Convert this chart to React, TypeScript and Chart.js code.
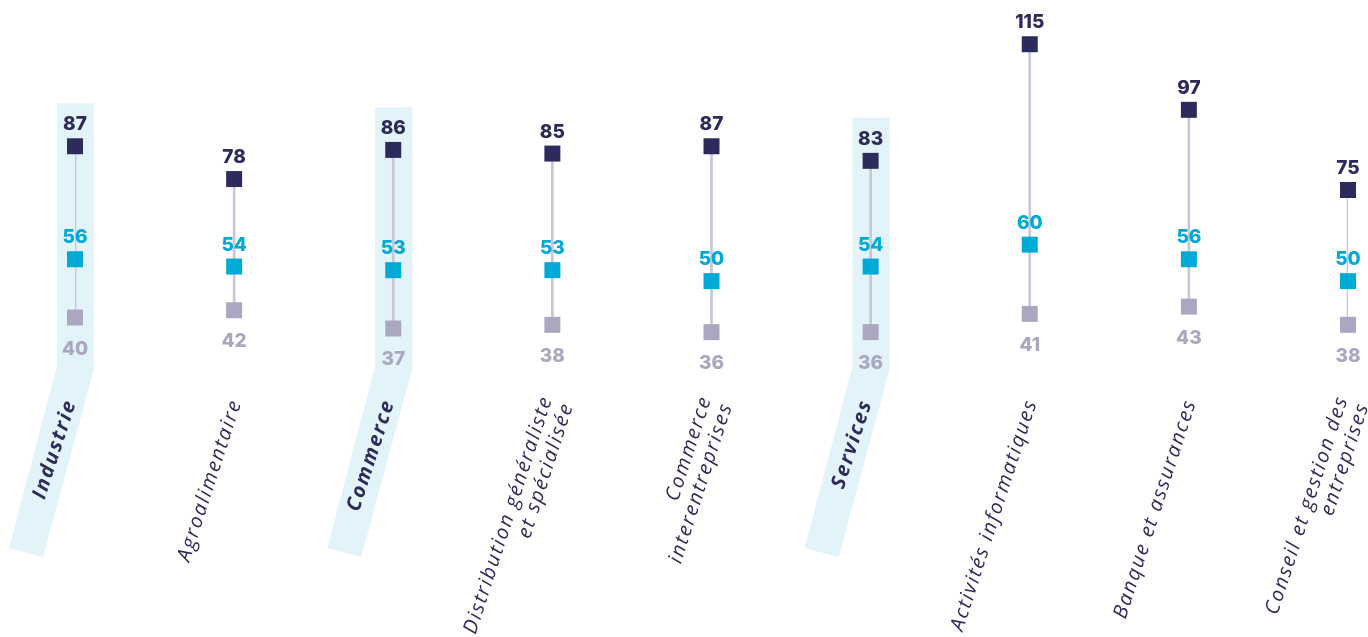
import React, { useEffect, useRef } from "react";
import { Chart, registerables } from "chart.js";

Chart.register(...registerables);

const categories: string[][] = [
  ["Industrie"],
  ["Agroalimentaire"],
  ["Commerce"],
  ["Distribution généraliste", "et spécialisée"],
  ["Commerce", "interentreprises"],
  ["Services"],
  ["Activités informatiques"],
  ["Banque et assurances"],
  ["Conseil et gestion des", "entreprises"],
];
const groupFlags = [true, false, true, false, false, true, false, false, false];
const highValues = [87, 78, 86, 85, 87, 83, 115, 97, 75];
const midValues = [56, 54, 53, 53, 50, 54, 60, 56, 50];
const lowValues = [40, 42, 37, 38, 36, 36, 41, 43, 38];

const NAVY = "#2d2a5c";
const CYAN = "#00aad6";
const GRAY = "#aba7c0";
const LINE = "#c8c6d7";
const BAND = "#e2f3fa";

const VALUE_FONT = "800 19px Inter, 'Noto Sans', sans-serif";
const CAT_FONT = "italic 400 20px 'Open Sans', 'Noto Sans', sans-serif";
const CAT_BOLD_FONT = "italic 700 20px 'Open Sans', 'Noto Sans', sans-serif";

const overlay = {
  id: "overlay",
  beforeDatasetsDraw(chart: any) {
    const ctx = chart.ctx as CanvasRenderingContext2D;
    const xs = chart.scales.x;
    const ys = chart.scales.y;
    ctx.save();
    ctx.fillStyle = BAND;
    groupFlags.forEach((g, i) => {
      if (!g) return;
      const cx = xs.getPixelForValue(i);
      const top = ys.getPixelForValue(highValues[i]) - 43;
      ctx.beginPath();
      ctx.moveTo(cx - 18, top);
      ctx.lineTo(cx + 19, top);
      ctx.lineTo(cx + 19, 369);
      ctx.lineTo(cx - 32, 557);
      ctx.lineTo(cx - 66, 548);
      ctx.lineTo(cx - 18, 366);
      ctx.closePath();
      ctx.fill();
    });
    ctx.restore();
  },
  afterDatasetsDraw(chart: any) {
    const ctx = chart.ctx as CanvasRenderingContext2D;
    const xs = chart.scales.x;
    ctx.save();
    const specs = [
      { ds: 1, values: highValues, color: NAVY, dy: -16 },
      { ds: 2, values: midValues, color: CYAN, dy: -16 },
      { ds: 3, values: lowValues, color: GRAY, dy: 37 },
    ];
    ctx.font = VALUE_FONT;
    ctx.textAlign = "center";
    ctx.textBaseline = "alphabetic";
    specs.forEach((s) => {
      const meta = chart.getDatasetMeta(s.ds);
      meta.data.forEach((pt: any, i: number) => {
        ctx.fillStyle = s.color;
        ctx.fillText(String(s.values[i]), pt.x, pt.y + s.dy);
      });
    });
    const angle = (-72 * Math.PI) / 180;
    const lineH = 22;
    categories.forEach((lines, i) => {
      const cx = xs.getPixelForValue(i);
      const bold = groupFlags[i];
      const n = lines.length;
      const ax = cx + (bold ? -4 : n > 1 ? 5 : 2);
      const ay = 400;
      ctx.save();
      ctx.translate(ax, ay);
      ctx.rotate(angle);
      ctx.font = bold ? CAT_BOLD_FONT : CAT_FONT;
      (ctx as any).letterSpacing = bold ? "2px" : "1.8px";
      ctx.fillStyle = NAVY;
      ctx.textAlign = "right";
      ctx.textBaseline = "middle";
      lines.forEach((t, k) => {
        const off = (k - (n - 1) / 2) * lineH;
        ctx.fillText(t, 0, off);
      });
      ctx.restore();
    });
    ctx.restore();
  },
};

export default function App() {
  const ref = useRef<HTMLCanvasElement | null>(null);
  useEffect(() => {
    if (!ref.current) return;
    const pointDs = (data: number[], color: string, order: number) =>
      ({
        type: "line",
        data,
        showLine: false,
        pointStyle: "rect",
        pointRadius: 11.3,
        pointBorderWidth: 0,
        pointBackgroundColor: color,
        pointBorderColor: color,
        clip: false,
        order,
      } as any);
    const chart = new Chart(ref.current, {
      type: "bar",
      data: {
        labels: categories.map((c) => c.join(" ")),
        datasets: [
          {
            type: "bar",
            data: lowValues.map((v, i) => [v, highValues[i]]) as any,
            backgroundColor: LINE,
            barThickness: 2,
            order: 10,
          } as any,
          pointDs(highValues, NAVY, 1),
          pointDs(midValues, CYAN, 2),
          pointDs(lowValues, GRAY, 3),
        ],
      },
      options: {
        animation: false,
        responsive: true,
        maintainAspectRatio: false,
        layout: { padding: { left: 75, right: 20, top: 26, bottom: 283 } },
        plugins: { legend: { display: false }, tooltip: { enabled: false } },
        scales: {
          x: { type: "category", offset: false, display: false },
          y: { min: 30, max: 120, display: false },
        },
      },
      plugins: [overlay],
    });
    return () => chart.destroy();
  }, []);
  return (
    <div style={{ position: "absolute", left: 0, top: 0, width: 1368, height: 637, background: "#fff" }}>
      <canvas ref={ref} />
    </div>
  );
}
